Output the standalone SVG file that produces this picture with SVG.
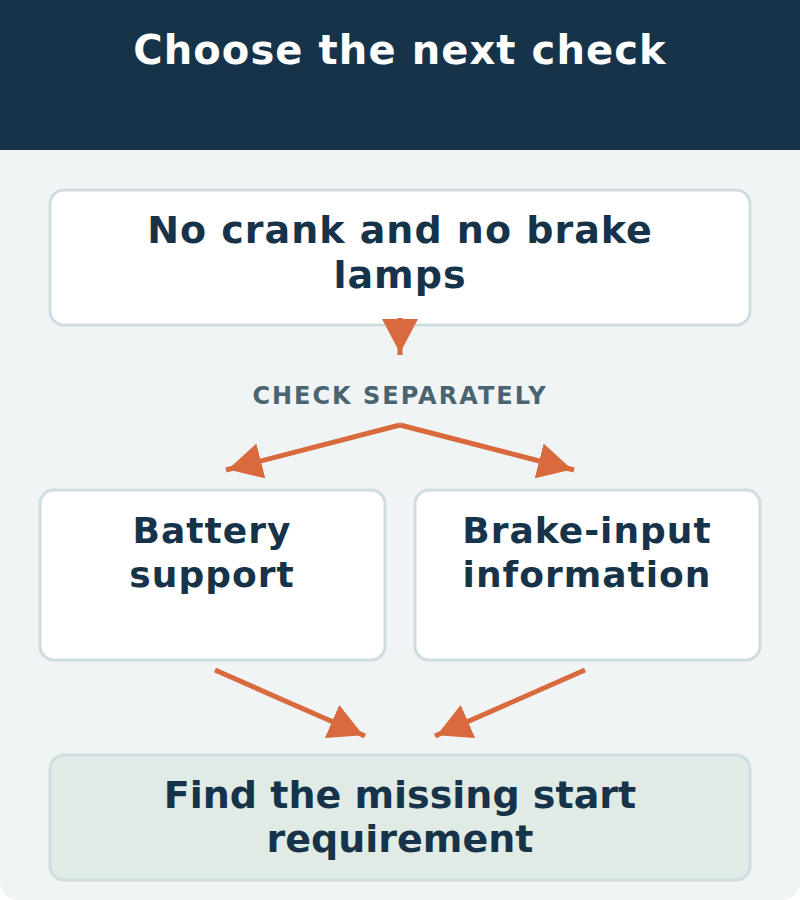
<svg xmlns="http://www.w3.org/2000/svg" width="800" height="900" viewBox="0 0 800 900">
<style>
text{font-family:"DejaVu Sans","Liberation Sans",sans-serif;font-weight:bold;text-anchor:middle;letter-spacing:1px}
.title{font-size:40px;fill:#ffffff;letter-spacing:1.1px}
.big{font-size:38px;fill:#163349}
.fint{font-size:38px;fill:#163349;letter-spacing:0}
.mid{font-size:36px;fill:#163349}
.lbl{font-size:24px;fill:#4a6470;letter-spacing:2px}
.box{fill:#ffffff;stroke:#cfdde0;stroke-width:3}
.fin{fill:#e1ebe5;stroke:#cfdde0;stroke-width:3}
.con{stroke:#d86a3d;stroke-width:5;fill:none;marker-end:url(#ah)}
</style>
<defs>
<marker id="ah" markerUnits="userSpaceOnUse" markerWidth="34" markerHeight="36" viewBox="0 0 34 36" refX="36" refY="18" orient="auto">
<path d="M0,0 L34,18 L0,36 z" fill="#d86a3d"/>
</marker>
</defs>
<rect x="0" y="0" width="800" height="900" rx="18" fill="#f0f4f5"/>
<rect x="0" y="0" width="800" height="150" fill="#163349"/>
<text class="title" x="400" y="64">Choose the next check</text>
<g id="node-start">
<rect class="box" x="50" y="190" width="700" height="135" rx="14"/>
<text class="big" x="400" y="243">No crank and no brake</text>
<text class="big" x="400" y="288">lamps</text>
</g>
<text class="lbl" x="400" y="404">CHECK SEPARATELY</text>
<g id="node-battery">
<rect class="box" x="40" y="490" width="345" height="170" rx="14"/>
<text class="mid" x="212" y="543">Battery</text>
<text class="mid" x="212" y="587">support</text>
</g>
<g id="node-brake">
<rect class="box" x="415" y="490" width="345" height="170" rx="14"/>
<text class="mid" x="587" y="543">Brake-input</text>
<text class="mid" x="587" y="587">information</text>
</g>
<g id="node-find">
<rect class="fin" x="50" y="755" width="700" height="125" rx="14"/>
<text class="fint" x="400" y="808">Find the missing start</text>
<text class="fint" x="400" y="852">requirement</text>
</g>
<g id="connectors">
<path class="con" d="M400,318 L400,355"/>
<path class="con" d="M400,425 L226,470"/>
<path class="con" d="M400,425 L574,470"/>
<path class="con" d="M215,670 L365,736"/>
<path class="con" d="M585,670 L435,736"/>
</g>
</svg>
